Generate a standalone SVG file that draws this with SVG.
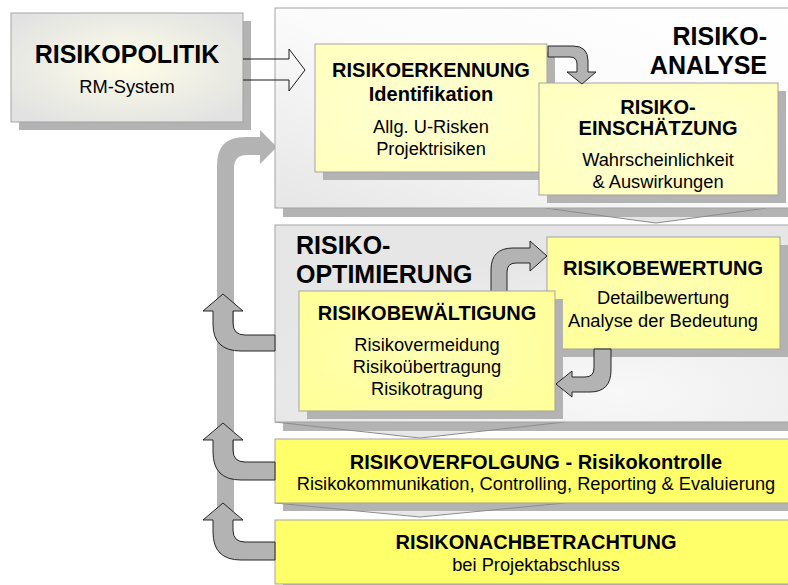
<svg xmlns="http://www.w3.org/2000/svg" width="788" height="585" viewBox="0 0 788 585">
  <defs>
    <style>
      .t{font-family:"Liberation Sans",Arial,sans-serif;fill:#000}
      .title{font-size:25px;font-weight:bold}
      .h{font-size:20px;font-weight:bold;text-anchor:middle}
      .r{font-size:18.3px;text-anchor:middle}
      .shadow{fill:#b3b3b3}
      .box{stroke:#a3a3a3;stroke-width:1}
      .garrow{fill:#b3b3b3;stroke:#262626;stroke-width:1;stroke-linejoin:round}
      .chev{fill:#e6e6e6;stroke:none}
      .chevline{fill:none;stroke:#8c8c8c;stroke-width:1}
    </style>
    <radialGradient id="gPol" cx="50%" cy="48%" r="62%">
      <stop offset="0" stop-color="#fffde6"/>
      <stop offset="0.45" stop-color="#f1f1e6"/>
      <stop offset="1" stop-color="#e2e2e2"/>
    </radialGradient>
    <linearGradient id="gAna" x1="1" y1="0" x2="0" y2="1">
      <stop offset="0" stop-color="#ffffff"/>
      <stop offset="0.5" stop-color="#fbfbfb"/>
      <stop offset="1" stop-color="#e6e6e6"/>
    </linearGradient>
    <radialGradient id="gOpt" cx="65%" cy="85%" r="70%">
      <stop offset="0" stop-color="#f8f8f8"/>
      <stop offset="1" stop-color="#e6e6e6"/>
    </radialGradient>
    <radialGradient id="gPale" cx="50%" cy="50%" r="70%">
      <stop offset="0" stop-color="#ffffd2"/>
      <stop offset="1" stop-color="#ffffbe"/>
    </radialGradient>
    <radialGradient id="gMid" cx="50%" cy="50%" r="70%">
      <stop offset="0" stop-color="#ffffb4"/>
      <stop offset="1" stop-color="#ffff98"/>
    </radialGradient>
  </defs>

  <!-- RISIKOPOLITIK -->
  <g id="risikopolitik">
    <rect class="shadow" x="19" y="21" width="232" height="109"/>
    <rect class="box" x="11" y="13" width="232" height="109" fill="url(#gPol)"/>
    <text class="t title" x="127" y="63" text-anchor="middle">RISIKOPOLITIK</text>
    <text class="t r" x="127" y="93">RM-System</text>
  </g>

  <!-- big feedback loop bar -->
  <g id="connectors-loop">
    <path fill="#b3b3b3" d="M217,518 L217,165 Q217,137 245,137 L260,137 L260,130 L277,147 L260,164 L260,155 L247,155 Q234,155 234,168 L234,518 Z"/>
  </g>

  <!-- RISIKO-ANALYSE panel -->
  <g id="panel-analyse">
    <polygon class="chev" points="545,208 656,223 767,208"/>
    <rect class="shadow" x="283" y="16" width="530" height="201"/>
    <polyline class="chevline" points="545,208 656,223 767,208"/>
    <rect class="box" x="275" y="8" width="530" height="200" fill="url(#gAna)"/>
    <text class="t title" x="767" y="45" text-anchor="end">RISIKO-</text>
    <text class="t title" x="767" y="74" text-anchor="end">ANALYSE</text>
  </g>

  <!-- RISIKO-OPTIMIERUNG panel -->
  <g id="panel-optimierung">
    <polygon class="chev" points="275,422 420,438 565,422"/>
    <rect class="shadow" x="283" y="233" width="530" height="198"/>
    <polyline class="chevline" points="275,422 420,438 565,422"/>
    <rect class="box" x="275" y="225" width="530" height="197" fill="url(#gOpt)"/>
    <text class="t title" x="296" y="254">RISIKO-</text>
    <text class="t title" x="296" y="283">OPTIMIERUNG</text>
  </g>

  <!-- RISIKOVERFOLGUNG -->
  <g id="risikoverfolgung">
    <polygon class="chev" points="275,503 420,517 565,503"/>
    <rect class="shadow" x="283" y="447" width="530" height="64"/>
    <polyline class="chevline" points="275,503 420,517 565,503"/>
    <rect class="box" x="275" y="439" width="530" height="64" fill="#ffff6a"/>
    <text class="t h" x="536" y="469">RISIKOVERFOLGUNG - Risikokontrolle</text>
    <text class="t r" x="536" y="490">Risikokommunikation, Controlling, Reporting &amp; Evaluierung</text>
  </g>

  <!-- RISIKONACHBETRACHTUNG -->
  <g id="risikonachbetrachtung">
    <rect class="shadow" x="283" y="528" width="530" height="64"/>
    <rect class="box" x="275" y="520" width="530" height="64" fill="#ffff6a"/>
    <text class="t h" x="536" y="549">RISIKONACHBETRACHTUNG</text>
    <text class="t r" x="536" y="571">bei Projektabschluss</text>
  </g>

  <!-- RISIKOERKENNUNG -->
  <g id="risikoerkennung">
    <rect class="shadow" x="323" y="52" width="232" height="128"/>
    <rect class="box" x="315" y="44" width="232" height="128" fill="url(#gPale)"/>
    <text class="t h" x="431" y="77">RISIKOERKENNUNG</text>
    <text class="t h" x="431" y="101">Identifikation</text>
    <text class="t r" x="431" y="133">Allg. U-Risken</text>
    <text class="t r" x="431" y="155">Projektrisiken</text>
  </g>

  <!-- RISIKO-EINSCHAETZUNG -->
  <g id="risikoeinschaetzung">
    <rect class="shadow" x="547" y="91" width="239" height="112"/>
    <rect class="box" x="539" y="83" width="239" height="112" fill="url(#gPale)"/>
    <text class="t h" x="658" y="114">RISIKO-</text>
    <text class="t h" x="658" y="135">EINSCHÄTZUNG</text>
    <text class="t r" x="658" y="166">Wahrscheinlichkeit</text>
    <text class="t r" x="658" y="188">&amp; Auswirkungen</text>
  </g>

  <!-- RISIKOBEWERTUNG -->
  <g id="risikobewertung">
    <rect class="shadow" x="555" y="245" width="233" height="112"/>
    <rect class="box" x="547" y="237" width="233" height="112" fill="url(#gMid)"/>
    <text class="t h" x="663" y="275">RISIKOBEWERTUNG</text>
    <text class="t r" x="663" y="304">Detailbewertung</text>
    <text class="t r" x="663" y="327">Analyse der Bedeutung</text>
  </g>

  <!-- connectors -->
  <g id="connectors">
    <!-- Politik -> Erkennung (outlined block arrow) -->
    <path fill="none" stroke="#1a1a1a" stroke-width="1" stroke-linejoin="miter" d="M243,59 L289,59 L289,49 L305,70 L289,91 L289,80 L243,80"/>
    <!-- Erkennung -> Einschaetzung -->
    <path class="garrow" d="M548,46 L573,46 Q588,46 588,61 L588,72 L596,72 L582,84 L567,72 L577,72 L577,64 Q577,57 570,57 L548,57 Z"/>
    <!-- Bewaeltigung -> Bewertung -->
    <path class="garrow" d="M491,292 L491,270 Q491,248 513,248 L530,248 L530,241 L547,256 L530,271 L530,263 L516,263 Q507,263 507,272 L507,292 Z"/>
    <!-- feedback arrows into loop -->
    <path class="garrow" d="M275,335 L245,335 Q233,335 233,323 L233,311 L243,311 L223,294 L203,311 L213,311 L213,324 Q213,351 241,351 L275,351 Z"/>
    <path class="garrow" d="M275,462 L245,462 Q233,462 233,450 L233,440 L243,440 L223,423 L203,440 L213,440 L213,452 Q213,480 241,480 L275,480 Z"/>
    <path class="garrow" d="M275,542 L245,542 Q233,542 233,530 L233,520 L243,520 L223,503 L203,520 L213,520 L213,532 Q213,560 241,560 L275,560 Z"/>
  </g>

  <!-- RISIKOBEWAELTIGUNG -->
  <g id="risikobewaeltigung">
    <rect class="shadow" x="307" y="299" width="256" height="120"/>
    <rect class="box" x="299" y="291" width="256" height="120" fill="url(#gMid)"/>
    <text class="t h" x="427" y="320">RISIKOBEWÄLTIGUNG</text>
    <text class="t r" x="427" y="351">Risikovermeidung</text>
    <text class="t r" x="427" y="373">Risikoübertragung</text>
    <text class="t r" x="427" y="395">Risikotragung</text>
  </g>

  <g id="connectors-2">
    <!-- Bewertung -> Bewaeltigung -->
    <path class="garrow" d="M594,349 L594,368 Q594,377 585,377 L572,377 L572,371 L556,384 L572,397 L572,392 L590,392 Q611,392 611,370 L611,349 Z"/>
  </g>
</svg>
